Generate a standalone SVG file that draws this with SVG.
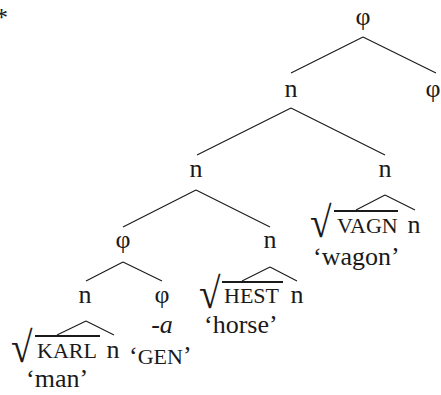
<svg xmlns="http://www.w3.org/2000/svg" width="441" height="395" viewBox="0 0 441 395">
<style>
text{font-family:"Liberation Serif","Times New Roman",serif;font-size:26px;fill:#1a1a1a}
.m{text-anchor:middle}
.sc{font-size:22px}
.r{font-size:28px}
.e{stroke:#1a1a1a;stroke-width:1.1;fill:none}
.ov{stroke:#1a1a1a;stroke-width:2.2;fill:none}
</style>
<rect width="441" height="395" fill="#fff"/>
<text x="-5" y="26">*</text>
<g id="connectors">
<path class="e" d="M363 37L291 73M363 37L436 73"/>
<path class="e" d="M291 108L197 155M291 108L385 155"/>
<path class="e" d="M196 190L123 227M196 190L270 227"/>
<path class="e" d="M385 195L356 210M385 195L415 210"/>
<path class="e" d="M123 262L86 281M123 262L162 281"/>
<path class="e" d="M270 267L242 281M270 267L297 281"/>
<path class="e" d="M86 321L57 335M86 321L114 335"/>
</g>
<g id="root"><text class="m" x="363" y="25">φ</text></g>
<g id="n1"><text class="m" x="291" y="97">n</text></g>
<g id="phi-right"><text class="m" x="433" y="97">φ</text></g>
<g id="n2"><text class="m" x="196" y="177">n</text></g>
<g id="n3"><text class="m" x="385" y="177">n</text></g>
<g id="vagn">
<text class="r" transform="translate(310,237) scale(1.4,1.55)">√</text>
<line class="ov" x1="334" y1="211" x2="398" y2="211"/>
<text class="sc" x="337" y="233">VAGN</text>
<text class="m" x="414" y="233">n</text>
<text x="313" y="265">‘wagon’</text>
</g>
<g id="phi2"><text class="m" x="123" y="248">φ</text></g>
<g id="n4"><text class="m" x="270" y="248">n</text></g>
<g id="n5"><text class="m" x="85" y="303">n</text></g>
<g id="phi3">
<text class="m" x="162" y="303">φ</text>
<text class="m" x="162" y="333">-<tspan font-style="italic">a</tspan></text>
<text x="129" y="364">‘<tspan class="sc">GEN</tspan>’</text>
</g>
<g id="hest">
<text class="r" transform="translate(199,308) scale(1.4,1.55)">√</text>
<line class="ov" x1="222" y1="282" x2="283" y2="282"/>
<text class="sc" x="224" y="303">HEST</text>
<text class="m" x="297" y="303">n</text>
<text x="204" y="333">‘horse’</text>
</g>
<g id="karl">
<text class="r" transform="translate(11,362) scale(1.4,1.55)">√</text>
<line class="ov" x1="35" y1="336" x2="100" y2="336"/>
<text class="sc" x="37" y="358">KARL</text>
<text class="m" x="113" y="358">n</text>
<text x="26" y="387">‘man’</text>
</g>
</svg>
